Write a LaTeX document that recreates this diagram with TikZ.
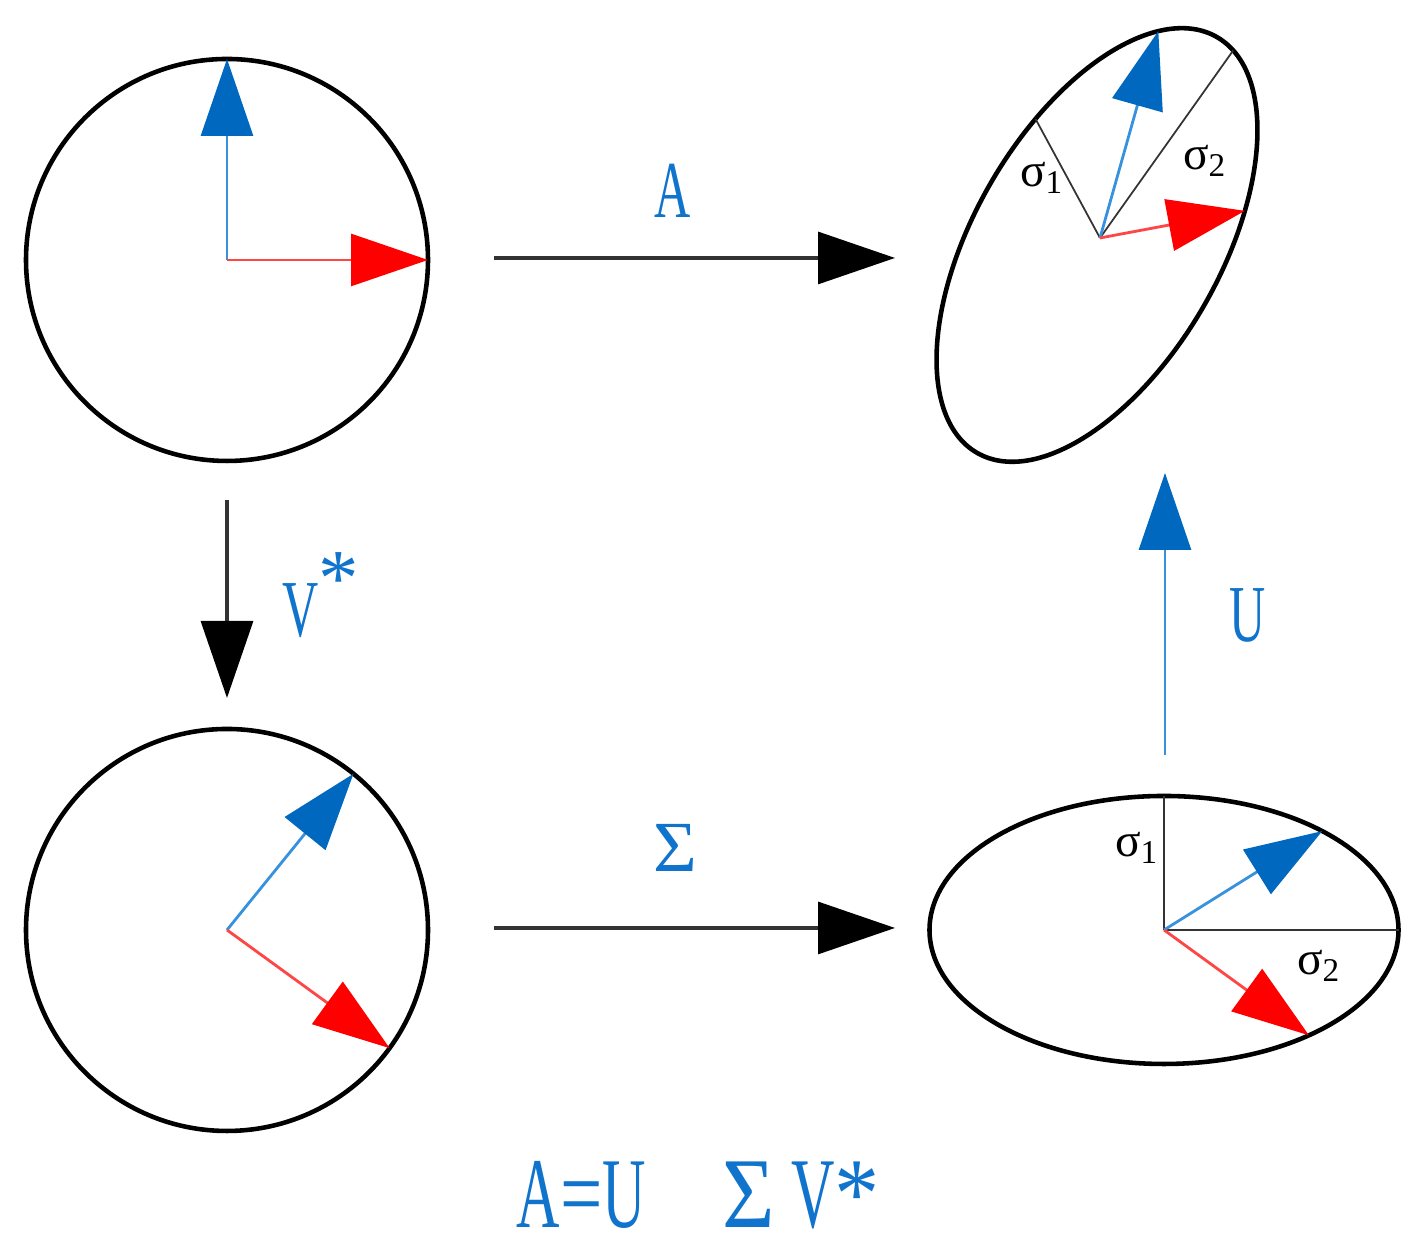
\documentclass[tikz,border=0pt]{standalone}
\usepackage{fontspec}
\setmainfont{Liberation Serif}
\newfontfamily\lblfont{Liberation Serif}
\usepackage{graphicx}
\usetikzlibrary{arrows.meta,shapes.geometric}
\definecolor{headblue}{RGB}{0,104,190}
\definecolor{lineblue}{RGB}{55,145,220}
\definecolor{headred}{RGB}{255,0,0}
\definecolor{linered}{RGB}{255,70,70}
\definecolor{textblue}{RGB}{16,116,204}
\newcommand{\narrow}[1]{\scalebox{0.62}[1]{#1}}
\begin{document}
\begin{tikzpicture}[
  outline/.style={draw, line width=1.3pt, inner sep=0pt, outer sep=0pt},
  bluevec/.style={draw=lineblue, line width=0.8pt, -{Triangle[length=7.7mm,width=5.2mm,color=headblue]}},
  redvec/.style={draw=linered, line width=0.8pt, -{Triangle[length=7.7mm,width=5.2mm,color=headred]}},
  maparrow/.style={draw=black!80, line width=0.9pt, -{Triangle[length=7.7mm,width=5.2mm,color=black]}},
  axisline/.style={draw=black!80, line width=0.7pt},
  maplabel/.style={text=textblue, font=\lblfont\fontsize{23}{23}\selectfont, inner sep=0pt},
  eqlabel/.style={maplabel, font=\lblfont\fontsize{28.5}{28.5}\selectfont, anchor=base},
  siglabel/.style={font=\lblfont\fontsize{13.5}{13.5}\selectfont, inner sep=0pt}]
\useasboundingbox (0,0) rectangle (14.19,12.51);

% unit circle and its image after V*
\node[outline, circle, minimum size=4.02cm] (c1) at (2.27,9.91) {};
\node[outline, circle, minimum size=4.02cm] (c2) at (2.27,3.21) {};

% stretched ellipse and rotated ellipse
\node[outline, ellipse, minimum width=4.69cm, minimum height=2.68cm] (e2) at (11.64,3.21) {};
\node[outline, ellipse, rotate=60, minimum width=4.80cm, minimum height=2.46cm] (e1) at (10.97,10.06) {};
\coordinate (o1) at (11.00,10.13);

% vectors
\draw[bluevec] (c1.center) -- (c1.north);
\draw[redvec] (c1.center) -- (c1.east);
\draw[bluevec] (c2.center) -- (c2.51);
\draw[redvec] (c2.center) -- (c2.-36);

\draw[axisline] (e2.center) -- (e2.north);
\draw[axisline] (e2.center) -- (e2.east);
\draw[bluevec] (e2.center) -- (e2.32);
\draw[redvec] (e2.center) -- (e2.-36);

\draw[axisline, line width=0.5pt] (o1) -- (e1.56);
\draw[axisline, line width=0.5pt] (o1) -- (e1.-5);
\draw[bluevec] (o1) -- (e1.14);
\draw[redvec] (o1) -- (e1.-47);

\node[siglabel] (s1a) at (10.42,10.73) {σ\textsubscript{1}};
\node[siglabel] (s2a) at (12.05,10.90) {σ\textsubscript{2}};
\node[siglabel] (s1b) at (11.37,4.03) {σ\textsubscript{1}};
\node[siglabel] (s2b) at (13.19,2.85) {σ\textsubscript{2}};

% mapping arrows
\coordinate (a1) at (4.94,9.93);
\coordinate (a2) at (8.95,9.93);
\coordinate (b1) at (4.94,3.23);
\coordinate (b2) at (8.95,3.23);
\coordinate (v1) at (2.27,7.51);
\coordinate (v2) at (2.27,5.53);
\coordinate (u1) at (11.65,4.96);
\coordinate (u2) at (11.65,7.78);
\draw[maparrow] (a1) -- (a2);
\draw[maparrow] (b1) -- (b2);
\draw[maparrow] (v1) -- (v2);
\draw[bluevec] (u1) -- (u2);

\node[maplabel, anchor=base] (lA) at (6.73,10.33) {\narrow{A}};
\node[maplabel, anchor=base] (lS) at (6.755,3.79) {\scalebox{0.93}[0.89]{Σ}};
\node[maplabel, anchor=base] (lV) at (3.21,6.14) {\narrow{V}\raisebox{9pt}{*}};
\node[maplabel, anchor=base] (lU) at (12.475,6.09) {\narrow{U}};

% decomposition
\node[eqlabel] (eqL) at (5.815,0.23) {\scalebox{0.6}[1]{A}\scalebox{0.75}[1]{=}\scalebox{0.6}[1]{U}};
\node[eqlabel] (eqS) at (7.485,0.23) {\scalebox{0.9}[1]{Σ}};
\node[eqlabel] (eqV) at (8.355,0.23) {\scalebox{0.6}[1]{V}\scalebox{0.9}[1]{*}};
\end{tikzpicture}
\end{document}
